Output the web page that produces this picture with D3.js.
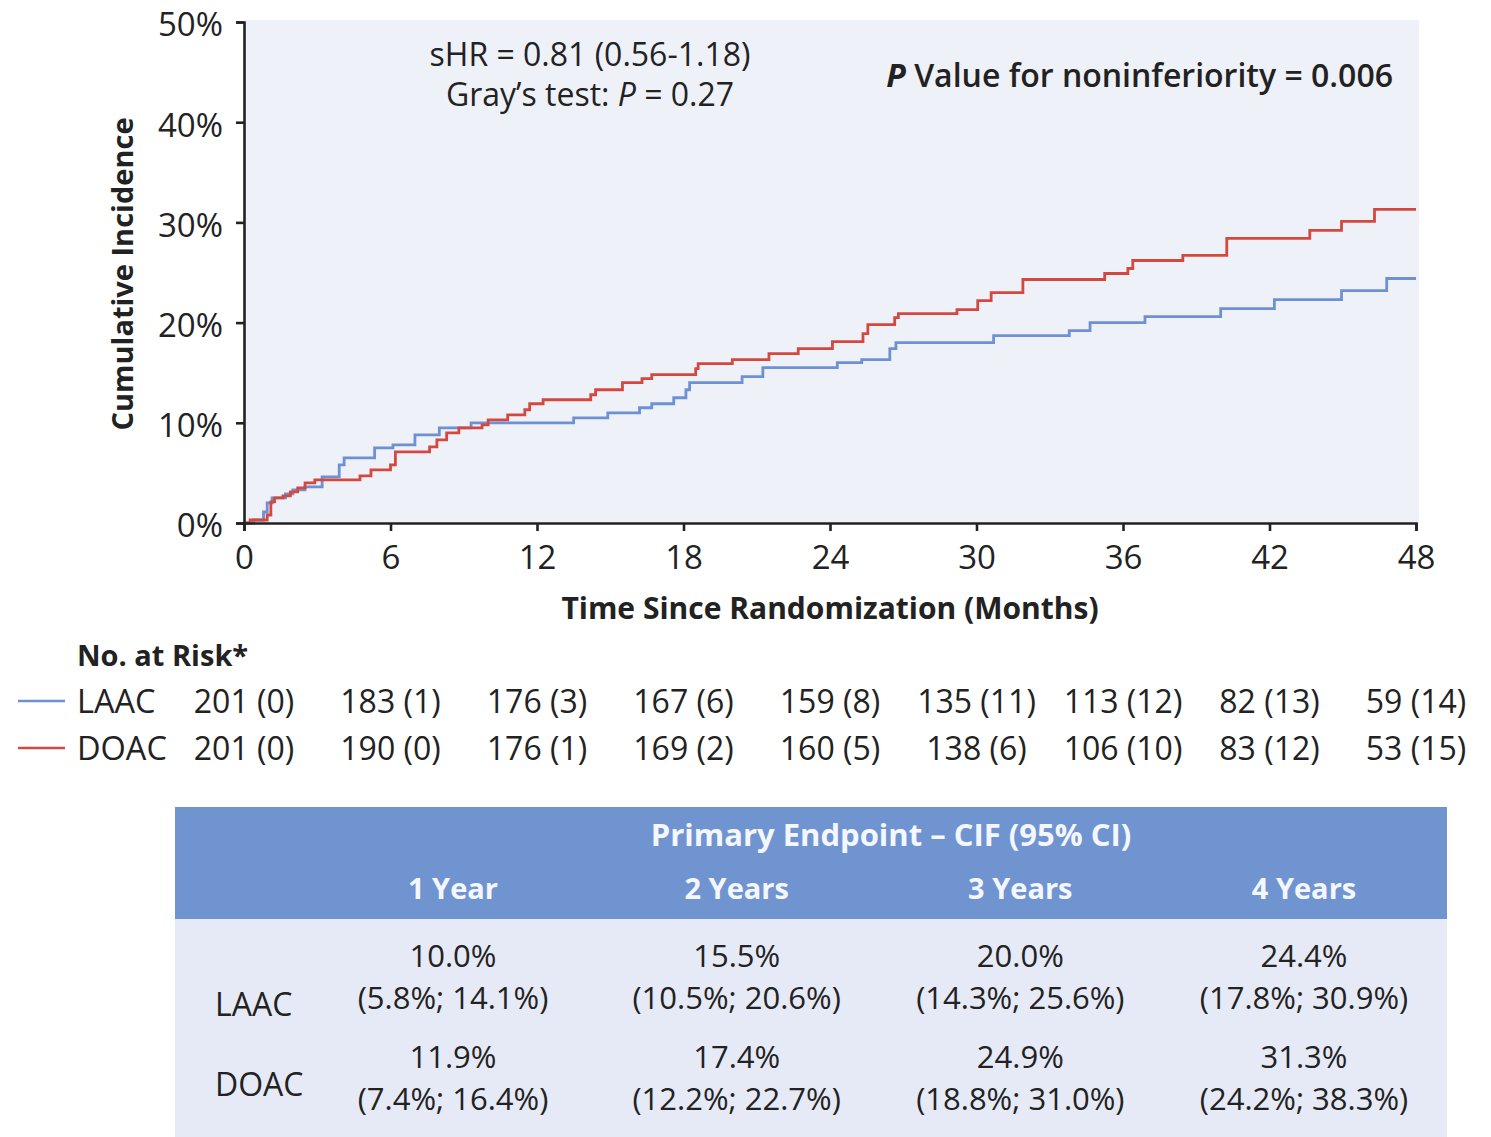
<!DOCTYPE html>
<html>
<head>
<meta charset="utf-8">
<script src="https://cdn.jsdelivr.net/npm/d3@7"></script>
<style>
  html, body { margin: 0; padding: 0; background: #ffffff; }
  svg { display: block; font-family: "Open Sans", "Noto Sans", sans-serif; }
</style>
</head>
<body>
<svg id="chart" width="1491" height="1137"></svg>
<script>
// Cumulative incidence (%) step functions, [month, percent]
const laacSteps = [
  [0, 0], [0.4, 0.3], [0.8, 1.1], [0.95, 2.0], [1.15, 2.5], [1.7, 2.9], [2.0, 3.3],
  [2.5, 3.6], [3.2, 4.6], [3.9, 5.8], [4.1, 6.5], [5.35, 7.5], [6.1, 7.8], [7.0, 8.8],
  [8.0, 9.5], [9.3, 10.0], [13.5, 10.5], [14.9, 11.0], [16.2, 11.5], [16.7, 11.9],
  [17.6, 12.5], [18.1, 13.3], [18.25, 14.0], [20.4, 14.6], [21.25, 15.5], [24.3, 16.0],
  [25.3, 16.3], [26.45, 17.4], [26.7, 18.0], [30.7, 18.7], [33.8, 19.2], [34.65, 20.0],
  [36.9, 20.6], [40.0, 21.4], [42.2, 22.3], [44.95, 23.2], [46.8, 24.4], [48, 24.4]
];
const doacSteps = [
  [0, 0], [0.25, 0.3], [0.95, 0.8], [1.1, 2.1], [1.25, 2.5], [1.6, 2.7], [1.9, 3.1],
  [2.2, 3.5], [2.5, 4.0], [2.9, 4.3], [4.75, 4.7], [5.2, 5.3], [6.0, 5.8], [6.2, 7.1],
  [7.6, 7.6], [7.9, 8.3], [8.3, 9.0], [8.8, 9.5], [9.75, 9.8], [10.0, 10.3], [10.8, 10.8],
  [11.5, 11.3], [11.7, 11.9], [12.25, 12.3], [14.2, 12.8], [14.4, 13.3], [15.5, 14.0],
  [16.3, 14.4], [16.7, 14.8], [18.5, 15.4], [18.6, 15.9], [20.0, 16.3], [21.5, 16.9],
  [22.7, 17.4], [24.1, 18.1], [25.35, 18.9], [25.55, 19.8], [26.65, 20.5], [26.8, 20.9],
  [29.2, 21.3], [30.05, 22.2], [30.6, 23.0], [31.9, 24.3], [35.25, 24.9], [36.2, 25.4],
  [36.4, 26.2], [38.45, 26.7], [40.25, 28.4], [43.65, 29.2], [44.95, 30.1], [46.3, 31.3],
  [48, 31.3]
];

// Axis ticks
const xTicks = [0, 6, 12, 18, 24, 30, 36, 42, 48];
const yTicks = [0, 10, 20, 30, 40, 50];

// Number at risk (events) at each x tick
const groups = ["LAAC", "DOAC"];
const laacAtRisk = ["201 (0)", "183 (1)", "176 (3)", "167 (6)", "159 (8)", "135 (11)", "113 (12)", "82 (13)", "59 (14)"];
const doacAtRisk = ["201 (0)", "190 (0)", "176 (1)", "169 (2)", "160 (5)", "138 (6)", "106 (10)", "83 (12)", "53 (15)"];

// Summary table: CIF (95% CI)
const periods = ["1 Year", "2 Years", "3 Years", "4 Years"];
const laacCif = ["10.0%", "15.5%", "20.0%", "24.4%"];
const laacCi = ["(5.8%; 14.1%)", "(10.5%; 20.6%)", "(14.3%; 25.6%)", "(17.8%; 30.9%)"];
const doacCif = ["11.9%", "17.4%", "24.9%", "31.3%"];
const doacCi = ["(7.4%; 16.4%)", "(12.2%; 22.7%)", "(18.8%; 31.0%)", "(24.2%; 38.3%)"];

const colors = { LAAC: "#6e90d4", DOAC: "#d4493f" };
const ink = "#222222";

const svg = d3.select("#chart");

const plot = { left: 244, right: 1416, top: 22, bottom: 523 };
const x = d3.scaleLinear().domain([0, 48]).range([plot.left, plot.right]);
const y = d3.scaleLinear().domain([0, 50]).range([plot.bottom, plot.top]);

// Plot background
svg.append("rect")
  .attr("x", plot.left).attr("y", plot.top - 2)
  .attr("width", plot.right - plot.left + 3).attr("height", plot.bottom - plot.top + 2)
  .attr("fill", "#eff1f9");

// Annotations
const ann = svg.append("g").attr("fill", ink).attr("font-size", 32);
ann.append("text").attr("x", 590).attr("y", 66).attr("text-anchor", "middle")
  .text("sHR = 0.81 (0.56-1.18)");
const gt = ann.append("text").attr("x", 590).attr("y", 106).attr("text-anchor", "middle");
gt.append("tspan").text("Gray\u2019s test: ");
gt.append("tspan").attr("font-style", "italic").text("P");
gt.append("tspan").text(" = 0.27");
const pv = ann.append("text").attr("x", 1393).attr("y", 87).attr("text-anchor", "end")
  .attr("font-weight", 600).attr("font-size", 32);
pv.append("tspan").attr("font-style", "italic").attr("font-weight", 700).text("P");
pv.append("tspan").text(" Value for noninferiority = 0.006");

// Curves
const line = d3.line()
  .x(d => x(d[0])).y(d => y(d[1]))
  .curve(d3.curveStepAfter);
svg.append("path").datum(laacSteps)
  .attr("fill", "none").attr("stroke", colors.LAAC).attr("stroke-width", 2.8)
  .attr("d", line);
svg.append("path").datum(doacSteps)
  .attr("fill", "none").attr("stroke", colors.DOAC).attr("stroke-width", 2.8)
  .attr("d", line);

// Axes
const yAxis = svg.append("g").attr("transform", `translate(${plot.left},0)`)
  .call(d3.axisLeft(y).tickValues(yTicks).tickFormat(d => d + "%").tickSize(8).tickPadding(13));
const xAxis = svg.append("g").attr("transform", `translate(0,${plot.bottom})`)
  .call(d3.axisBottom(x).tickValues(xTicks).tickSize(8).tickPadding(15));
[xAxis, yAxis].forEach(g => {
  g.select(".domain").attr("stroke", ink).attr("stroke-width", 2.6);
  g.selectAll(".tick line").attr("stroke", ink).attr("stroke-width", 2.6);
  g.selectAll(".tick text").attr("fill", ink)
    .attr("font-family", "'Open Sans', 'Noto Sans', sans-serif");
});
yAxis.selectAll(".tick text").attr("font-size", 33).attr("dy", "0.42em");
xAxis.selectAll(".tick text").attr("font-size", 33);

// Axis titles
svg.append("text")
  .attr("transform", "translate(133,274) rotate(-90)")
  .attr("text-anchor", "middle").attr("font-weight", 700).attr("font-size", 29)
  .attr("fill", ink).text("Cumulative Incidence");
svg.append("text")
  .attr("x", 830).attr("y", 619).attr("text-anchor", "middle")
  .attr("font-weight", 700).attr("font-size", 30).attr("fill", ink)
  .text("Time Since Randomization (Months)");

// Number at risk
svg.append("text").attr("x", 77).attr("y", 666)
  .attr("font-weight", 700).attr("font-size", 29).attr("fill", ink)
  .text("No. at Risk*");
const riskRows = [laacAtRisk, doacAtRisk];
const rowY = d3.scalePoint().domain(groups).range([701, 748]);
groups.forEach((g, i) => {
  const ry = rowY(g);
  svg.append("line").attr("x1", 18).attr("x2", 65).attr("y1", ry).attr("y2", ry)
    .attr("stroke", colors[g]).attr("stroke-width", 2.6);
  svg.append("text").attr("x", 77).attr("y", ry).attr("dy", "0.36em")
    .attr("font-size", 32.5).attr("fill", ink).text(g);
  svg.append("g").selectAll("text").data(riskRows[i]).join("text")
    .attr("x", (d, j) => x(xTicks[j])).attr("y", ry).attr("dy", "0.36em")
    .attr("text-anchor", "middle").attr("font-size", 32).attr("fill", ink)
    .text(d => d);
});

// Summary table
const tbl = { left: 175, right: 1447, top: 807, headBottom: 919, bottom: 1137 };
svg.append("rect").attr("x", tbl.left).attr("y", tbl.headBottom)
  .attr("width", tbl.right - tbl.left).attr("height", tbl.bottom - tbl.headBottom)
  .attr("fill", "#e6eaf6");
svg.append("rect").attr("x", tbl.left).attr("y", tbl.top)
  .attr("width", tbl.right - tbl.left).attr("height", tbl.headBottom - tbl.top)
  .attr("fill", "#7094d0");

const col = d3.scalePoint().domain(periods).range([453, 1304]);
svg.append("text").attr("x", 891).attr("y", 846).attr("text-anchor", "middle")
  .attr("font-weight", 700).attr("font-size", 31).attr("fill", "#f4f7ff")
  .text("Primary Endpoint \u2013 CIF (95% CI)");
svg.append("g").selectAll("text").data(periods).join("text")
  .attr("x", d => col(d)).attr("y", 899).attr("text-anchor", "middle")
  .attr("font-weight", 700).attr("font-size", 29).attr("fill", "#f4f7ff")
  .text(d => d);

const bodyRows = [
  { name: "LAAC", labelY: 1016, cifY: 967, ciY: 1009, cif: laacCif, ci: laacCi },
  { name: "DOAC", labelY: 1096, cifY: 1068, ciY: 1110, cif: doacCif, ci: doacCi }
];
bodyRows.forEach(r => {
  svg.append("text").attr("x", 215).attr("y", r.labelY)
    .attr("font-size", 32).attr("fill", ink).text(r.name);
  svg.append("g").selectAll("text").data(r.cif).join("text")
    .attr("x", (d, j) => col(periods[j])).attr("y", r.cifY).attr("text-anchor", "middle")
    .attr("font-size", 31).attr("fill", ink).text(d => d);
  svg.append("g").selectAll("text").data(r.ci).join("text")
    .attr("x", (d, j) => col(periods[j])).attr("y", r.ciY).attr("text-anchor", "middle")
    .attr("font-size", 31).attr("fill", ink).text(d => d);
});
</script>
</body>
</html>
